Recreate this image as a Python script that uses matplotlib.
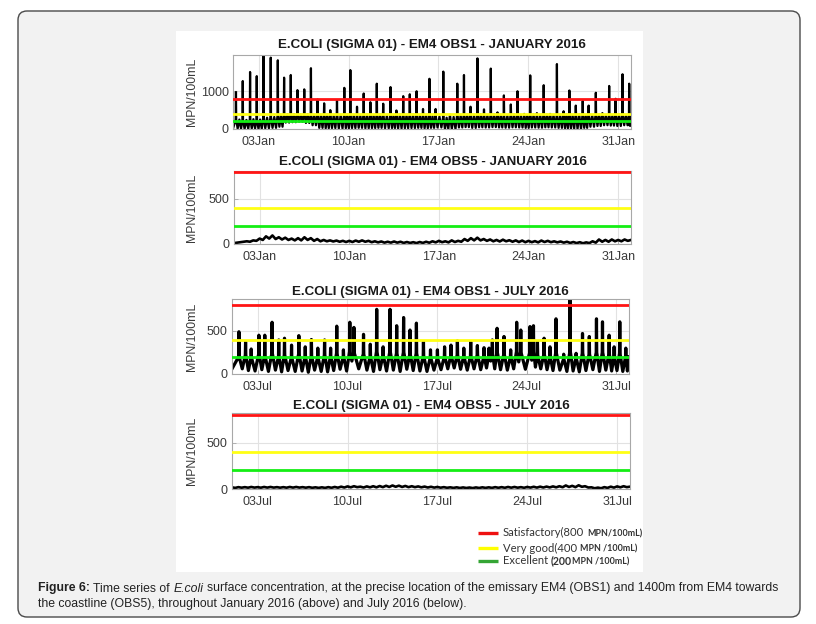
import numpy as np
import matplotlib
matplotlib.use('Agg')
import matplotlib.pyplot as plt
from matplotlib.patches import FancyBboxPatch, Rectangle

W, H = 816, 624
plt.rcParams['font.family'] = ['Liberation Sans', 'DejaVu Sans']

# --- data (days since start of month) ---
jan_spike_day = [0.23, 0.76, 1.33, 1.85, 2.37, 2.94, 3.49, 3.98, 4.50, 5.02,
                 5.55, 6.07, 6.59, 7.10, 7.58, 8.10, 8.67, 9.14, 9.66, 10.18,
                 10.70, 11.20, 11.70, 12.27, 12.73, 13.26, 13.77, 14.30, 14.80, 15.30,
                 15.78, 16.38, 16.90, 17.47, 17.99, 18.50, 19.04, 19.55, 20.08, 20.60,
                 21.10, 21.64, 22.16, 22.68, 23.15, 23.67, 24.20, 24.70, 25.23, 25.75,
                 26.20, 26.70, 27.24, 27.70, 28.26, 28.77, 29.30, 29.80, 30.34, 30.86]
jan_spike_val = [980, 1270, 1510, 1400, 2000, 1890, 1820, 1360, 1430, 1030,
                 1050, 1610, 780, 680, 500, 760, 1090, 1560, 590, 940,
                 710, 1200, 670, 1110, 490, 870, 920, 1000, 530, 1330,
                 530, 1520, 380, 1200, 1430, 590, 1870, 520, 1600, 440,
                 890, 650, 1000, 400, 1420, 420, 1160, 400, 1720, 470,
                 1020, 620, 740, 620, 960, 420, 1140, 800, 1450, 1200]
jan_shoulder = [250, 240, 260, 250, 300, 320, 360, 390, 390, 380,
                390, 370, 370, 380, 360, 370, 380, 370, 360, 380,
                370, 380, 370, 360, 380, 370, 380, 360, 370, 340,
                330, 300, 320, 360, 380, 370, 380, 370, 380, 370,
                360, 380, 370, 360, 380, 370, 380, 370, 360, 380,
                370, 380, 360, 370, 380, 370, 360, 380, 370, 380]
jan_trough = [10, 5, 15, 10, 20, 30, 60, 170, 180, 190,
              160, 100, 30, 20, 25, 15, 20, 25, 30, 20,
              25, 30, 20, 25, 15, 20, 25, 30, 20, 30,
              40, 0, 0, 40, 50, 30, 45, 40, 50, 40,
              35, 45, 40, 30, 40, 35, 45, 40, 30, 20,
              10, 0, 30, 60, 80, 100, 90, 80, 100, 90]

jul_spike_day = [0.54, 1.06, 1.50, 2.10, 2.56, 3.13, 3.65, 4.10, 4.65, 5.22,
                 5.72, 6.20, 6.70, 7.23, 7.70, 8.18, 8.70, 9.20, 9.52, 10.27,
                 10.80, 11.30, 11.80, 12.34, 12.86, 13.40, 13.90, 14.40, 14.95, 15.50,
                 16.04, 16.60, 17.10, 17.60, 18.10, 18.64, 19.16, 19.68, 20.07, 20.33,
                 20.70, 21.24, 21.76, 22.23, 22.55, 23.27, 23.54, 23.85, 24.37, 24.83,
                 25.30, 25.90, 26.40, 26.87, 27.37, 27.90, 28.46, 28.93, 29.45, 29.84,
                 30.28, 30.75]
jul_spike_val = [490, 375, 290, 450, 450, 600, 395, 415, 335, 445,
                 315, 400, 300, 395, 300, 555, 280, 600, 540, 460,
                 345, 750, 315, 750, 560, 655, 510, 590, 375, 280,
                 280, 315, 335, 385, 300, 375, 330, 305, 300, 395,
                 530, 435, 280, 600, 510, 550, 560, 375, 415, 315,
                 640, 230, 880, 240, 470, 435, 640, 605, 450, 315,
                 605, 300]
jul_shoulder = [200, 220, 190, 230, 210, 240, 200, 220, 190, 230,
                200, 210, 190, 220, 200, 240, 200, 260, 250, 230,
                200, 260, 210, 260, 240, 250, 230, 240, 210, 190,
                180, 200, 210, 220, 200, 210, 220, 200, 220, 230,
                250, 230, 200, 260, 250, 250, 260, 220, 230, 200,
                250, 170, 260, 180, 240, 230, 250, 250, 230, 200,
                240, 200]
jul_trough = [60, 40, 35, 50, 30, 45, 25, 40, 30, 35,
              20, 45, 30, 25, 40, 55, 35, 150, 60, 45,
              30, 50, 35, 45, 30, 55, 40, 35, 30, 45,
              50, 60, 70, 55, 45, 60, 50, 70, 150, 60,
              50, 45, 60, 140, 55, 160, 80, 60, 50, 40,
              45, 30, 35, 25, 40, 50, 30, 45, 35, 40,
              30, 35]

# OBS5, one value every 6 hours
jan_obs5 = [10, 15, 20, 25, 30, 25, 40, 35, 60, 45, 85, 60,
            95, 55, 75, 50, 70, 45, 60, 40, 65, 40, 75, 45,
            65, 35, 55, 30, 45, 30, 40, 28, 38, 25, 35, 22,
            35, 22, 38, 25, 40, 25, 35, 20, 30, 18, 28, 15,
            25, 15, 28, 15, 25, 12, 22, 12, 20, 10, 22, 12,
            25, 14, 30, 18, 35, 20, 30, 18, 40, 22, 35, 25,
            55, 35, 65, 40, 70, 40, 55, 35, 50, 30, 45, 28,
            48, 30, 42, 25, 40, 22, 38, 20, 35, 20, 32, 18,
            38, 22, 35, 20, 30, 18, 28, 15, 25, 12, 22, 10,
            20, 8, 18, 10, 30, 15, 50, 25, 45, 25, 50, 30,
            45, 30, 50, 35, 45]
jul_obs5 = [18, 12, 20, 14, 20, 14, 22, 15, 20, 14, 22, 15,
            22, 15, 20, 14, 20, 14, 22, 15, 22, 15, 20, 14,
            20, 13, 18, 12, 18, 12, 20, 13, 22, 14, 25, 16,
            28, 18, 30, 20, 25, 16, 28, 18, 30, 18, 32, 20,
            35, 22, 38, 24, 36, 22, 33, 20, 30, 20, 28, 18,
            26, 16, 24, 15, 22, 14, 20, 13, 18, 12, 18, 11,
            17, 11, 16, 10, 17, 11, 18, 12, 18, 12, 20, 13,
            20, 13, 22, 14, 22, 14, 20, 13, 22, 15, 24, 15,
            25, 16, 26, 17, 28, 18, 30, 19, 38, 22, 34, 20,
            40, 24, 30, 16, 18, 8, 15, 8, 20, 12, 25, 15,
            28, 18, 30, 20, 25]

thresholds = [800, 400, 200]
threshold_colors = ['#ff1414', '#ffff14', '#14ee14']
legend_colors = ['#ee1111', '#ffff00', '#35a535']

jan_ticks = ['03Jan', '10Jan', '17Jan', '24Jan', '31Jan']
jul_ticks = ['03Jul', '10Jul', '17Jul', '24Jul', '31Jul']
tick_days = [2, 9, 16, 23, 30]


def tidal_trace(spike_day, spike_val, shoulder, trough, end_day, double_dip):
    xs, ys = [0.0], [trough[0]]
    n = len(spike_day)
    for i in range(n):
        t = spike_day[i]
        xs += [t - 0.02, t, t + 0.02]
        ys += [shoulder[i], spike_val[i], shoulder[i]]
        g = (spike_day[i + 1] if i < n - 1 else end_day) - t
        if double_dip:
            xs += [t + 0.25 * g, t + 0.5 * g, t + 0.75 * g]
            ys += [trough[i], shoulder[i], trough[i]]
        else:
            xs.append(t + 0.5 * g)
            ys.append(trough[i])
    xs.append(end_day)
    ys.append(shoulder[-1])
    return xs, ys


fig = plt.figure(figsize=(W / 100, H / 100), dpi=100)
fig.patch.set_facecolor('white')

# background layer in pixel coordinates
bg = fig.add_axes([0, 0, 1, 1], zorder=0)
bg.set_xlim(0, W)
bg.set_ylim(H, 0)
bg.axis('off')
bg.add_patch(FancyBboxPatch((18, 11), 782, 606, boxstyle='round,pad=0,rounding_size=9',
                            fc='#f2f2f2', ec='#4a4a4a', lw=1.0))
bg.add_patch(Rectangle((176, 31), 467, 541, fc='white', ec='none'))

# (left, right, top, bottom) in pixels
panels = [
    (233, 631, 55, 129),
    (234, 631, 171, 244),
    (232, 629, 299, 374),
    (232, 630, 413, 489),
]
titles = ['E.COLI (SIGMA 01) - EM4 OBS1 - JANUARY 2016',
          'E.COLI (SIGMA 01) - EM4 OBS5 - JANUARY 2016',
          'E.COLI (SIGMA 01) - EM4 OBS1 - JULY 2016',
          'E.COLI (SIGMA 01) - EM4 OBS5 - JULY 2016']
title_y = [45, 162, 292, 406]
ylims = [1960, 810, 870, 820]
yticks = [[0, 1000], [0, 500], [0, 500], [0, 500]]

jan_x, jan_y = tidal_trace(jan_spike_day, jan_spike_val, jan_shoulder, jan_trough, 31, True)
jul_x, jul_y = tidal_trace(jul_spike_day, jul_spike_val, jul_shoulder, jul_trough, 31, False)
obs5_x = np.arange(len(jan_obs5)) * 0.25
series = [(jan_x, jan_y, 1.6), (obs5_x, jan_obs5, 1.9),
          (jul_x, jul_y, 2.3), (obs5_x, jul_obs5, 1.9)]

for k, (l, r, t, b) in enumerate(panels):
    ax = fig.add_axes([l / W, 1 - b / H, (r - l) / W, (b - t) / H], zorder=2)
    xs, ys, lw = series[k]
    ax.plot(xs, ys, color='black', lw=lw, zorder=2, solid_joinstyle='round')
    for val, col in zip(thresholds, threshold_colors):
        ax.axhline(val, color=col, lw=2.0, zorder=3)
    ax.set_xlim(0, 31)
    ax.set_ylim(0, ylims[k])
    ax.set_xticks(tick_days)
    ax.set_xticklabels(jan_ticks if k < 2 else jul_ticks)
    ax.set_yticks(yticks[k])
    ax.grid(True, color='#e2e2e2', lw=0.8, zorder=0)
    ax.set_axisbelow(True)
    for sp in ax.spines.values():
        sp.set_color('#a8a8a8')
        sp.set_linewidth(0.8)
    ax.tick_params(direction='in', length=3, width=0.6, color='#a8a8a8',
                   labelsize=9, labelcolor='#3a3a3a')
    ax.tick_params(axis='x', pad=5)
    ax.tick_params(axis='y', pad=3)
    bg.text((l + r) / 2, title_y[k], titles[k], ha='center', va='center',
            fontsize=9.6, fontweight='bold', color='#1a1a1a')
    bg.text(191.5, (t + b) / 2, 'MPN/100mL', rotation=90, ha='center', va='center',
            fontsize=8.8, color='#3a3a3a')

fig.canvas.draw()
renderer = fig.canvas.get_renderer()


def space_width(props):
    a = bg.text(0, 0, 'x x', **props)
    b = bg.text(0, 0, 'xx', **props)
    w = a.get_window_extent(renderer).width - b.get_window_extent(renderer).width
    a.remove()
    b.remove()
    return w


def put_runs(x, y, runs):
    for txt, props, gap in runs:
        tx = bg.text(x, y, txt, ha='left', va='baseline', **props)
        x += tx.get_window_extent(renderer).width
        if gap:
            x += space_width(props)


# legend
main = dict(fontsize=8.1, family='Lato', color='#333333')
unit = dict(fontsize=6.4, family='Lato', fontweight='bold', color='#333333')
big = dict(fontsize=7.6, family='Lato', fontweight='bold', color='#333333')
legend_rows = [
    [('Satisfactory(800', main, True), ('MPN/100mL)', unit, False)],
    [('Very good(400', main, True), ('MPN /100mL)', unit, False)],
    [('Excellent', main, True), ('(200', big, False), ('MPN /100mL)', unit, False)],
]
for row_y, col, runs in zip([533, 548, 561], legend_colors, legend_rows):
    bg.plot([478, 498], [row_y, row_y], color=col, lw=2.4, solid_capstyle='butt')
    put_runs(503, row_y + 3.5, runs)

# caption
reg = dict(fontsize=8.8, family='Liberation Sans', color='#222222')
bold = dict(reg, fontweight='bold')
ital = dict(reg, style='italic')
put_runs(38, 591.5, [('Figure 6:', bold, True), ('Time series of', reg, True), ('E.coli', ital, True),
                     ('surface concentration, at the precise location of the emissary EM4 (OBS1) '
                      'and 1400m from EM4 towards', reg, False)])
put_runs(38, 607, [('the coastline (OBS5), throughout January 2016 (above) and July 2016 (below).',
                    reg, False)])

fig.savefig('out.png', dpi=100)
